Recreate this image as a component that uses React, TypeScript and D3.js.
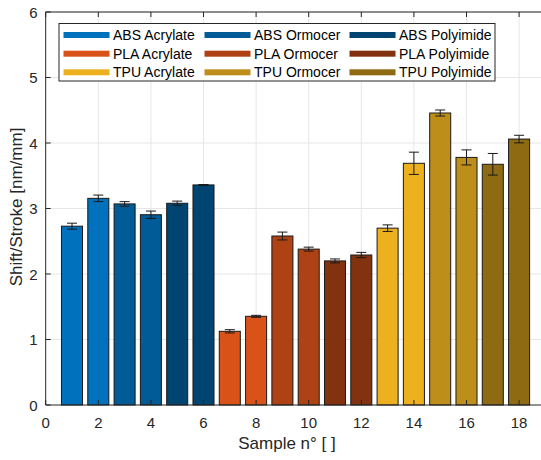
import React, { useEffect, useRef } from "react";
import * as d3 from "d3";

const samples = [1, 2, 3, 4, 5, 6, 7, 8, 9, 10, 11, 12, 13, 14, 15, 16, 17, 18];
const values = [2.73, 3.155, 3.07, 2.905, 3.08, 3.36, 1.125, 1.354, 2.58, 2.38, 2.2, 2.29, 2.7, 3.69, 4.458, 3.78, 3.675, 4.06];
const errors = [0.046, 0.05, 0.035, 0.056, 0.033, 0.006, 0.025, 0.015, 0.06, 0.03, 0.03, 0.04, 0.05, 0.17, 0.046, 0.115, 0.165, 0.058];
const groupNames = ["ABS Acrylate", "ABS Ormocer", "ABS Polyimide", "PLA Acrylate", "PLA Ormocer", "PLA Polyimide", "TPU Acrylate", "TPU Ormocer", "TPU Polyimide"];
const groupColors = ["#0072bd", "#005b97", "#004471", "#d95319", "#ae4214", "#82320f", "#edb120", "#be8e1a", "#8e6a13"];
// which legend group each sample belongs to (two samples per group)
const sampleGroup = [0, 0, 1, 1, 2, 2, 3, 3, 4, 4, 5, 5, 6, 6, 7, 7, 8, 8];
const xTicks = [0, 2, 4, 6, 8, 10, 12, 14, 16, 18];
const yTicks = [0, 1, 2, 3, 4, 5, 6];

const App = () => {
  const ref = useRef<SVGSVGElement>(null);
  const width = 541;
  const height = 460;

  useEffect(() => {
    const svg = d3.select(ref.current);
    svg.selectAll("*").remove();

    const left = 45.7, top = 12, bottom = 405;
    const font = "Liberation Sans, Arial, Helvetica, sans-serif";
    const axisColor = "#262626";

    const x = d3.scaleLinear().domain([0, 19]).range([left, left + 19 * 26.3]);
    const y = d3.scaleLinear().domain([0, 6]).range([bottom, top]);
    const right = x(19);

    svg.append("rect").attr("x", left).attr("y", top)
      .attr("width", right - left).attr("height", bottom - top).attr("fill", "#fff");

    // grid
    const grid = svg.append("g").attr("stroke", "#e6e6e6").attr("stroke-width", 1);
    grid.selectAll(".gx").data(xTicks.slice(1)).enter().append("line")
      .attr("x1", d => x(d)).attr("x2", d => x(d)).attr("y1", top).attr("y2", bottom);
    grid.selectAll(".gy").data(yTicks.slice(1)).enter().append("line")
      .attr("x1", left).attr("x2", right).attr("y1", d => y(d)).attr("y2", d => y(d));

    // bars
    const bw = 0.8 * (x(1) - x(0));
    const bars = svg.append("g");
    bars.selectAll("rect").data(samples).enter().append("rect")
      .attr("x", (d) => x(d) - bw / 2)
      .attr("y", (d, i) => y(values[i]))
      .attr("width", bw)
      .attr("height", (d, i) => y(0) - y(values[i]))
      .attr("fill", (d, i) => groupColors[sampleGroup[i]])
      .attr("stroke", "#1a1a1a")
      .attr("stroke-width", 1);

    // error bars
    const eb = svg.append("g").attr("stroke", "#1a1a1a").attr("stroke-width", 1);
    samples.forEach((s, i) => {
      const cx = x(s);
      const y1 = y(values[i] - errors[i]);
      const y2 = y(values[i] + errors[i]);
      eb.append("line").attr("x1", cx).attr("x2", cx).attr("y1", y1).attr("y2", y2);
      eb.append("line").attr("x1", cx - 5).attr("x2", cx + 5).attr("y1", y1).attr("y2", y1);
      eb.append("line").attr("x1", cx - 5).attr("x2", cx + 5).attr("y1", y2).attr("y2", y2);
    });

    // axes
    const ax = svg.append("g").attr("stroke", axisColor).attr("stroke-width", 1).attr("fill", "none");
    ax.append("line").attr("x1", left).attr("x2", right).attr("y1", bottom).attr("y2", bottom);
    ax.append("line").attr("x1", left).attr("x2", right).attr("y1", top).attr("y2", top);
    ax.append("line").attr("x1", left).attr("x2", left).attr("y1", top).attr("y2", bottom);
    xTicks.forEach(t => {
      ax.append("line").attr("x1", x(t)).attr("x2", x(t)).attr("y1", bottom).attr("y2", bottom - 5);
      ax.append("line").attr("x1", x(t)).attr("x2", x(t)).attr("y1", top).attr("y2", top + 5);
    });
    yTicks.forEach(t => {
      ax.append("line").attr("x1", left).attr("x2", left + 5).attr("y1", y(t)).attr("y2", y(t));
    });

    const labels = svg.append("g").attr("font-family", font).attr("font-size", 15).attr("fill", axisColor);
    labels.selectAll(".xt").data(xTicks).enter().append("text")
      .attr("x", d => x(d)).attr("y", bottom + 23).attr("text-anchor", "middle").text(d => d);
    labels.selectAll(".yt").data(yTicks).enter().append("text")
      .attr("x", left - 8).attr("y", d => y(d) + 5.5).attr("text-anchor", "end").text(d => d);
    labels.append("text").attr("x", 287).attr("y", 449).attr("text-anchor", "middle")
      .attr("font-size", 17).text("Sample n° [ ]");
    labels.append("text").attr("transform", `translate(22,207) rotate(-90)`)
      .attr("text-anchor", "middle").attr("font-size", 17).text("Shift/Stroke [nm/mm]");

    // legend
    const lg = svg.append("g").attr("font-family", font).attr("font-size", 14);
    lg.append("rect").attr("x", 59).attr("y", 23.5).attr("width", 436).attr("height", 57.5)
      .attr("fill", "#fff").attr("stroke", "#262626").attr("stroke-width", 1);
    const colX = [63.5, 204.5, 349.5];
    const rowY = [35, 53.7, 72.3];
    groupNames.forEach((name, i) => {
      const col = i % 3;
      const row = Math.floor(i / 3);
      lg.append("rect").attr("x", colX[col]).attr("y", rowY[row] - 3)
        .attr("width", 46).attr("height", 6).attr("fill", groupColors[i]);
      lg.append("text").attr("x", colX[col] + 49.5).attr("y", rowY[row] + 5)
        .attr("fill", "#000").text(name);
    });
  }, []);

  return (
    <svg ref={ref} width={width} height={height}
      style={{ position: "absolute", left: 0, top: 0, background: "#fff" }} />
  );
};

export default App;
